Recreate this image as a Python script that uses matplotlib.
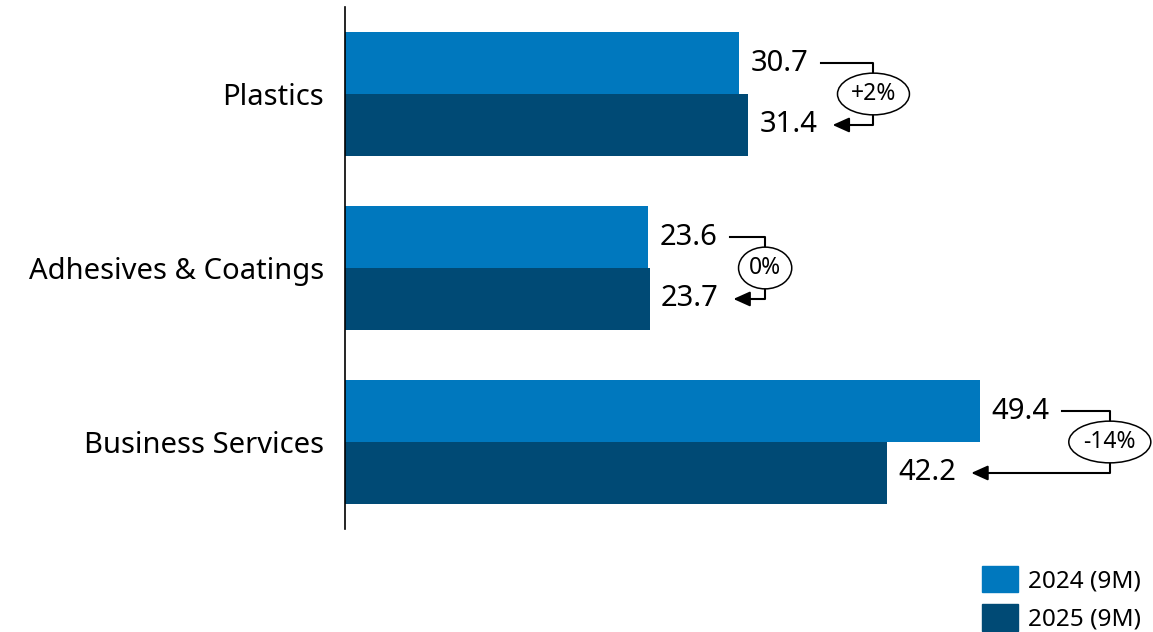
import matplotlib
matplotlib.use("Agg")
import matplotlib.pyplot as plt
from matplotlib.patches import Patch

plt.rcParams['font.family'] = ['Noto Sans', 'DejaVu Sans']

# data
categories = ['Plastics', 'Adhesives & Coatings', 'Business Services']
series_names = ['2024 (9M)', '2025 (9M)']
vals_2024 = [30.7, 23.6, 49.4]
vals_2025 = [31.4, 23.7, 42.2]
changes = ['+2%', '0%', '-14%']

c_2024 = '#0078BE'
c_2025 = '#004A75'

fig = plt.figure(figsize=(11.53, 6.32), dpi=100)
ax = fig.add_axes([345 / 1153, 1 - 529 / 632, 771 / 1153, 522 / 632])

h = 0.356
ys = list(range(len(categories)))
ax.barh([y - h / 2 for y in ys], vals_2024, height=h, color=c_2024)
ax.barh([y + h / 2 for y in ys], vals_2025, height=h, color=c_2025)

ax.set_xlim(0, 60)
ax.set_ylim(2.5, -0.5)
ax.set_yticks(ys)
ax.set_yticklabels(categories, fontsize=21)
ax.tick_params(axis='y', length=0, pad=15)
ax.set_xticks([])
for s in ['top', 'right', 'bottom']:
    ax.spines[s].set_visible(False)
ax.spines['left'].set_linewidth(1.2)

# value labels
top_lbls, bot_lbls, pct_lbls = [], [], []
for y, a, b, ch in zip(ys, vals_2024, vals_2025, changes):
    top_lbls.append(ax.annotate(f'{a}', xy=(a, y - h / 2), xytext=(8, 0),
                                textcoords='offset points', va='center',
                                ha='left', fontsize=21))
    bot_lbls.append(ax.annotate(f'{b}', xy=(b, y + h / 2), xytext=(8, 0),
                                textcoords='offset points', va='center',
                                ha='left', fontsize=21))
    pct_lbls.append(ax.text(max(a, b), y, ch, fontsize=16.5, ha='center',
                            va='center', zorder=5,
                            bbox=dict(boxstyle='ellipse,pad=0.12', fc='white',
                                      ec='black', lw=1.1)))

fig.canvas.draw()
r = fig.canvas.get_renderer()
inv = ax.transData.inverted()
to_px = ax.transData.transform

# bracket connectors with change bubbles
for y, a, b, tl, bl, pl in zip(ys, vals_2024, vals_2025, top_lbls, bot_lbls, pct_lbls):
    ell = pl.get_bbox_patch().get_window_extent(r)
    bar_end = to_px((max(a, b), y))[0]
    bx = bar_end + 89 + ell.width / 2
    yc = to_px((0, y))[1]
    y_top = to_px((0, y - h / 2))[1]
    y_bot = to_px((0, y + h / 2))[1]
    pl.set_position(tuple(inv.transform((bx, yc))))
    x0 = tl.get_window_extent(r).x1 + 13
    x1 = bl.get_window_extent(r).x1 + 15
    half = ell.height / 2
    pts = inv.transform([(x0, y_top), (bx, y_top), (bx, yc + half)])
    ax.plot(pts[:, 0], pts[:, 1], color='black', lw=1.5, clip_on=False)
    pts = inv.transform([(bx, yc - half), (bx, y_bot), (x1 + 10, y_bot)])
    ax.plot(pts[:, 0], pts[:, 1], color='black', lw=1.5, clip_on=False)
    tip = inv.transform((x1, y_bot))
    tail = inv.transform((x1 + 16, y_bot))
    ax.annotate('', xy=tuple(tip), xytext=tuple(tail),
                arrowprops=dict(arrowstyle='-|>,head_length=1.0,head_width=0.45',
                                color='black', lw=1.5, shrinkA=0, shrinkB=0),
                annotation_clip=False)

handles = [Patch(color=c_2024), Patch(color=c_2025)]
fig.legend(handles, series_names, loc='lower right', bbox_to_anchor=(1.004, -0.026),
           frameon=False, fontsize=17.5, handlelength=1.5, handleheight=1.3,
           handletextpad=0.4, labelspacing=0.45, borderaxespad=0.3)

fig.savefig('out.png', dpi=100)
